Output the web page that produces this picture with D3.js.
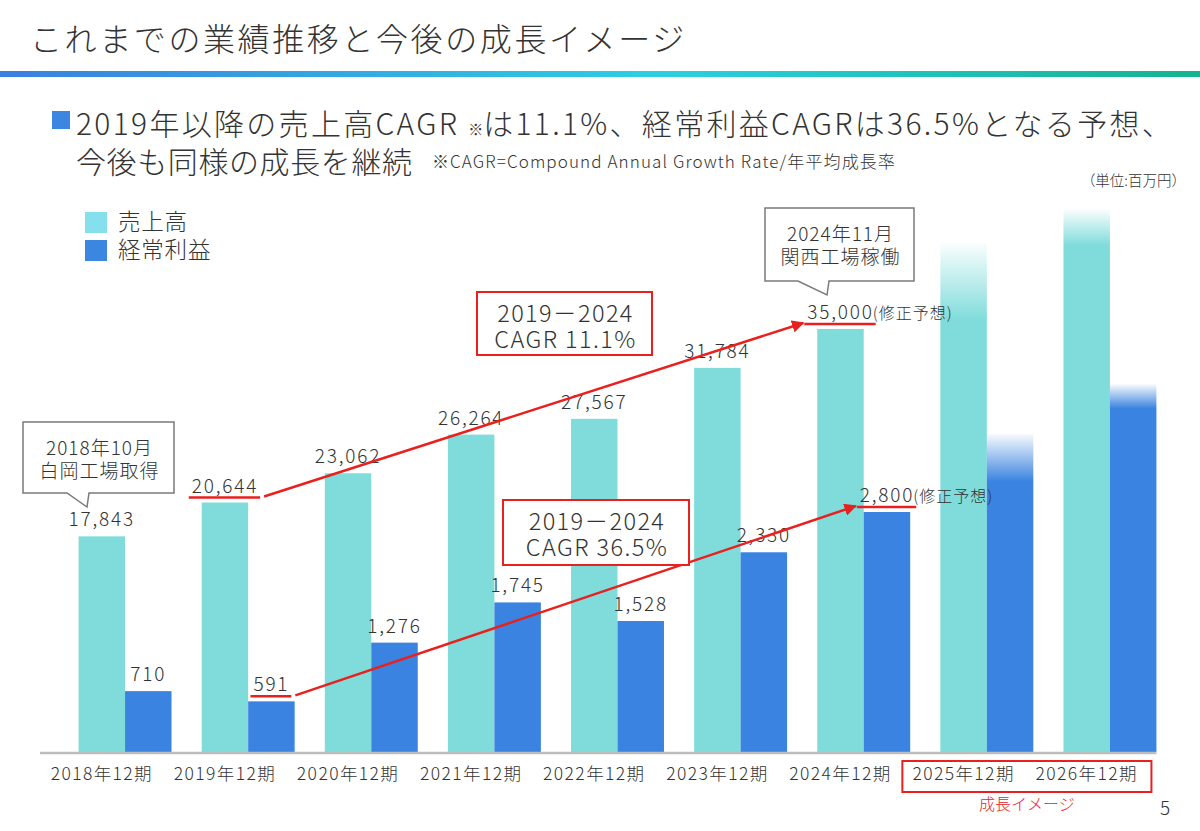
<!DOCTYPE html>
<html><head><meta charset="utf-8">
<script src="https://cdn.jsdelivr.net/npm/d3@7"></script>
<style>
body{margin:0;background:#fff}
svg{display:block}
text{font-family:"Noto Sans CJK JP","Noto Sans",sans-serif;fill:#333;font-weight:300}
</style>
</head><body>
<svg id="chart" width="1200" height="831"></svg>
<script>
// ---- data ----
const categories = ["2018年12期","2019年12期","2020年12期","2021年12期","2022年12期","2023年12期","2024年12期","2025年12期","2026年12期"];
const salesValues  = [17843, 20644, 23062, 26264, 27567, 31784, 35000, 42100, 44900];
const profitValues = [710, 591, 1276, 1745, 1528, 2330, 2800, 3710, 4290];
const salesLabels  = ["17,843","20,644","23,062","26,264","27,567","31,784","35,000","",""];
const profitLabels = ["710","591","1,276","1,745","1,528","2,330","2,800","",""];
const forecastNote = ["","","","","","","(修正予想)","",""];
const imageCategories = ["2025年12期","2026年12期"];
const seriesNames = ["売上高","経常利益"];
const cagrStart = "2019年12期", cagrEnd = "2024年12期";
const cagrTexts = [["2019－2024","CAGR 11.1%"],["2019－2024","CAGR 36.5%"]];
const callouts = [["2018年10月","白岡工場取得"],["2024年11月","関西工場稼働"]];

// ---- styles ----
const C_SALES = "#80dcdb", C_PROFIT = "#3a83e0", RED = "#e8211f";
const fadeFrac = {"2025年12期":0.15,"2026年12期":0.066};

const svg = d3.select("#chart");
svg.append("rect").attr("width",1200).attr("height",831).attr("fill","#fff");
const defs = svg.append("defs");

// header
const hg = defs.append("linearGradient").attr("id","hdr");
hg.append("stop").attr("offset","0%").attr("stop-color","#3a80e0");
hg.append("stop").attr("offset","55%").attr("stop-color","#2ccfe2");
hg.append("stop").attr("offset","100%").attr("stop-color","#13b48f");
svg.append("text").attr("x",30).attr("y",51).attr("font-size",32)
  .attr("letter-spacing",2.6).text("これまでの業績推移と今後の成長イメージ");
svg.append("rect").attr("x",0).attr("y",71).attr("width",1200).attr("height",6).attr("fill","url(#hdr)");

// bullet
svg.append("rect").attr("x",52).attr("y",111).attr("width",18).attr("height",18).attr("fill","#3a86e0");
const l1 = svg.append("text").attr("x",76).attr("y",135).attr("font-size",30).attr("letter-spacing",2.3);
l1.append("tspan").text("2019年以降の売上高CAGR ");
l1.append("tspan").attr("font-size",15).attr("letter-spacing",0).text("※");
l1.append("tspan").text("は11.1%、経常利益CAGRは36.5%となる予想、");
svg.append("text").attr("x",76).attr("y",173).attr("font-size",30).attr("letter-spacing",0.6).text("今後も同様の成長を継続");
svg.append("text").attr("x",432).attr("y",168).attr("font-size",17).attr("letter-spacing",1.1)
  .text("※CAGR=Compound Annual Growth Rate/年平均成長率");
svg.append("text").attr("x",1186).attr("y",186).attr("font-size",14.5).attr("text-anchor","end").text("（単位:百万円）");

// legend
const legColors = ["#84e0ec", "#3a86e0"];
seriesNames.forEach((n,i)=>{
  svg.append("rect").attr("x",85).attr("y",212+i*28).attr("width",22).attr("height",21).attr("fill",legColors[i]);
  svg.append("text").attr("x",118).attr("y",230+i*28).attr("font-size",22.5).attr("letter-spacing",0.8).text(n);
});

// ---- scales ----
const x = d3.scaleBand().domain(categories).range([63.5,1171.5]).paddingInner(0.245).paddingOuter(0.1225);
const xs = d3.scaleBand().domain(["sales","profit"]).range([0,x.bandwidth()]);
const ySales = d3.scaleLinear().domain([0,35000]).range([752,329]);
const yProfit = d3.scaleLinear().domain([0,2800]).range([752,512]);

// gradients for image bars
imageCategories.forEach((c,k)=>{
  [["s",C_SALES],["p",C_PROFIT]].forEach(([key,col])=>{
    const g = defs.append("linearGradient").attr("id",`fade_${key}_${k}`)
      .attr("x1",0).attr("y1",0).attr("x2",0).attr("y2",1);
    g.append("stop").attr("offset",0).attr("stop-color",col).attr("stop-opacity",0.04);
    g.append("stop").attr("offset",fadeFrac[c]).attr("stop-color",col).attr("stop-opacity",1);
    g.append("stop").attr("offset",1).attr("stop-color",col).attr("stop-opacity",1);
  });
});
const fillFor = (c,key,col)=> imageCategories.includes(c) ? `url(#fade_${key}_${imageCategories.indexOf(c)})` : col;

// bars
const groups = svg.append("g").selectAll("g").data(categories).join("g")
  .attr("transform",c=>`translate(${x(c)},0)`);
groups.append("rect").attr("x",xs("sales")).attr("width",xs.bandwidth())
  .attr("y",(c,i)=>ySales(salesValues[i])).attr("height",(c,i)=>ySales(0)-ySales(salesValues[i]))
  .attr("fill",c=>fillFor(c,"s",C_SALES));
groups.append("rect").attr("x",xs("profit")).attr("width",xs.bandwidth())
  .attr("y",(c,i)=>yProfit(profitValues[i])).attr("height",(c,i)=>yProfit(0)-yProfit(profitValues[i]))
  .attr("fill",c=>fillFor(c,"p",C_PROFIT));

// axis (labels centred under the sales bar, as in the original)
svg.append("line").attr("x1",40).attr("x2",x(categories[8])+x.bandwidth()).attr("y1",753).attr("y2",753)
  .attr("stroke","#bdbdbd").attr("stroke-width",2.5);
const ax = svg.append("g").attr("transform",`translate(${-xs.bandwidth()/2},752)`)
  .call(d3.axisBottom(x).tickSize(0).tickPadding(16));
ax.select(".domain").remove();
ax.selectAll("text").attr("font-size",17.5).attr("letter-spacing",1.4).attr("fill","#333")
  .style("font-family",'"Noto Sans CJK JP","Noto Sans",sans-serif').style("font-weight",300);

// value labels
const labelInfo = {};
function addLabel(c,i,key,cx,top,txt){
  if(!txt) return;
  const t = svg.append("text").attr("x",cx).attr("y",top-10).attr("font-size",19)
    .attr("letter-spacing",1.8).attr("text-anchor","middle").text(txt);
  const w = t.node().getComputedTextLength();
  labelInfo[key+c] = {x0:cx-w/2, x1:cx+w/2, top:top};
  if(forecastNote[i]){
    svg.append("text").attr("x",cx+w/2-1).attr("y",top-10).attr("font-size",16)
      .attr("letter-spacing",1).text(forecastNote[i]);
  }
}
categories.forEach((c,i)=>{
  addLabel(c,i,"s",x(c)+xs("sales")+xs.bandwidth()/2, ySales(salesValues[i]), salesLabels[i]);
  addLabel(c,i,"p",x(c)+xs("profit")+xs.bandwidth()/2, yProfit(profitValues[i]), profitLabels[i]);
});

// underlines + arrows
defs.append("marker").attr("id","arr").attr("viewBox","0 0 10 10").attr("refX",9).attr("refY",5)
  .attr("markerWidth",5).attr("markerHeight",5).attr("orient","auto")
  .append("path").attr("d","M0,0 L10,5 L0,10 Z").attr("fill",RED);
["s","p"].forEach(key=>{
  const a = labelInfo[key+cagrStart], b = labelInfo[key+cagrEnd];
  [a,b].forEach(L=>{
    svg.append("line").attr("x1",L.x0-3).attr("x2",L.x1+2).attr("y1",L.top-5).attr("y2",L.top-5)
      .attr("stroke",RED).attr("stroke-width",2.5);
  });
  svg.append("line").attr("x1",a.x1+6).attr("y1",a.top-6).attr("x2",b.x0-4).attr("y2",b.top-6)
    .attr("stroke",RED).attr("stroke-width",2.5).attr("marker-end","url(#arr)");
});

// CAGR boxes
const boxes = [{x:477,y:292,w:175,h:63},{x:503,y:500,w:186,h:65}];
boxes.forEach((b,k)=>{
  svg.append("rect").attr("x",b.x).attr("y",b.y).attr("width",b.w).attr("height",b.h)
    .attr("fill","#fff").attr("stroke",RED).attr("stroke-width",2);
  cagrTexts[k].forEach((t,j)=>{
    svg.append("text").attr("x",b.x+b.w/2+1).attr("y",b.y+30+j*26).attr("text-anchor","middle")
      .attr("font-size",23.5).attr("letter-spacing",1.4).text(t);
  });
});

// callouts
const co = [{x:23,y:422,w:151,h:71,t0:67,t1:89,tip:[87,507]},{x:765,y:208,w:149,h:73,t0:798,t1:829,tip:[827,295]}];
co.forEach((b,k)=>{
  const p = `M${b.x},${b.y}H${b.x+b.w}V${b.y+b.h}H${b.t1}L${b.tip[0]},${b.tip[1]}L${b.t0},${b.y+b.h}H${b.x}Z`;
  svg.append("path").attr("d",p).attr("fill","#fff").attr("stroke","#7a7a7a").attr("stroke-width",1.5);
  callouts[k].forEach((t,j)=>{
    svg.append("text").attr("x",b.x+b.w/2+1).attr("y",b.y+33+j*23).attr("text-anchor","middle")
      .attr("font-size",19).attr("letter-spacing",1).text(t);
  });
});

// growth image box
const gx0 = x(imageCategories[0])-38, gx1 = x(imageCategories[1])+x.bandwidth()-5;
svg.append("rect").attr("x",gx0).attr("y",761).attr("width",gx1-gx0).attr("height",31)
  .attr("fill","none").attr("stroke",RED).attr("stroke-width",2);
svg.append("text").attr("x",(gx0+gx1)/2).attr("y",810).attr("text-anchor","middle")
  .attr("font-size",16).style("fill",RED).text("成長イメージ");
svg.append("text").attr("x",1160).attr("y",815).attr("font-size",19).text("5");
</script>
</body></html>
